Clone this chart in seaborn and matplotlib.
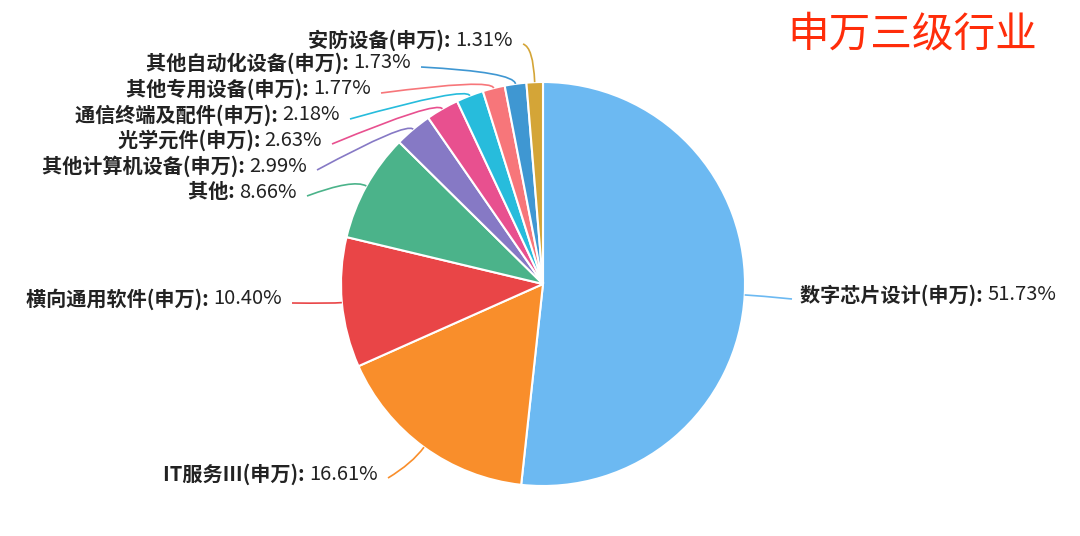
import numpy as np
import matplotlib
matplotlib.use("Agg")
import matplotlib.pyplot as plt
import seaborn as sns
from matplotlib.path import Path
from matplotlib.patches import PathPatch

# slice data (clockwise from 12 o'clock)
names = ["数字芯片设计(申万)", "IT服务Ⅲ(申万)", "横向通用软件(申万)", "其他",
         "其他计算机设备(申万)", "光学元件(申万)", "通信终端及配件(申万)",
         "其他专用设备(申万)", "其他自动化设备(申万)", "安防设备(申万)"]
shares = [51.73, 16.61, 10.40, 8.66, 2.99, 2.63, 2.18, 1.77, 1.73, 1.31]
colors = ["#6cb9f2", "#f98e2b", "#e94547", "#4bb38a", "#8679c5",
          "#e8508f", "#27bcdc", "#f7767a", "#3f97d2", "#d4a537"]
title = "申万三级行业"

sns.set_theme(style="white")
plt.rcParams["font.family"] = ["Noto Sans CJK SC", "DejaVu Sans"]

W, H = 1080, 536
fig = plt.figure(figsize=(W / 100, H / 100), dpi=100)
ax = fig.add_axes([0, 0, 1, 1])

cx, cy, R = 543, H - 284, 202
ax.pie(shares, colors=colors, startangle=90, counterclock=False,
       center=(cx, cy), radius=R, frame=True,
       wedgeprops=dict(edgecolor="white", linewidth=1.5))
ax.set_xlim(0, W)
ax.set_ylim(0, H)
ax.set_aspect("equal")
ax.axis("off")

# label layout: text anchor (pixels from top-left), alignment, first leg length
label_pos = [(800, 295, "left", 15), (378, 474, "right", 20), (282, 299, "right", 10),
             (297, 192, "right", 15), (307, 166, "right", 10), (322, 140, "right", 10),
             (340, 115, "right", 10), (371, 89, "right", 10), (411, 63, "right", 12),
             (513, 40, "right", 35)]

fs = 14.5
renderer = fig.canvas.get_renderer()
cum = np.cumsum([0] + shares[:-1])
total = sum(shares)
for i, (nm, v) in enumerate(zip(names, shares)):
    mid = np.deg2rad((cum[i] + v / 2) / total * 360)
    ex, ey = cx + R * np.sin(mid), cy + R * np.cos(mid)
    tx, ty, ha, l1 = label_pos[i]
    kx, ky = cx + (R + l1) * np.sin(mid), cy + (R + l1) * np.cos(mid)
    gap = -8 if ha == "left" else 10
    end = (tx + gap, H - ty - 4)
    path = Path([(ex, ey), (kx, ky), end], [Path.MOVETO, Path.CURVE3, Path.CURVE3])
    ax.add_patch(PathPatch(path, fill=False, edgecolor=colors[i], lw=1.2))

    name_txt = nm + ": "
    val_txt = f"{v:.2f}%"
    ty_d = H - ty
    if ha == "right":
        t2 = ax.text(tx, ty_d, val_txt, ha="right", va="center", fontsize=fs,
                     color="#222222")
        w = t2.get_window_extent(renderer).width
        ax.text(tx - w, ty_d, name_txt, ha="right", va="center", fontsize=fs,
                fontweight="bold", color="#222222")
    else:
        t1 = ax.text(tx, ty_d, name_txt, ha="left", va="center", fontsize=fs,
                     fontweight="bold", color="#222222")
        w = t1.get_window_extent(renderer).width
        ax.text(tx + w, ty_d, val_txt, ha="left", va="center", fontsize=fs,
                color="#222222")

ax.text(912, H - 35, title, ha="center", va="center", fontsize=30, color="#ff2d0a")

fig.savefig("out.png", dpi=100, facecolor="white")
